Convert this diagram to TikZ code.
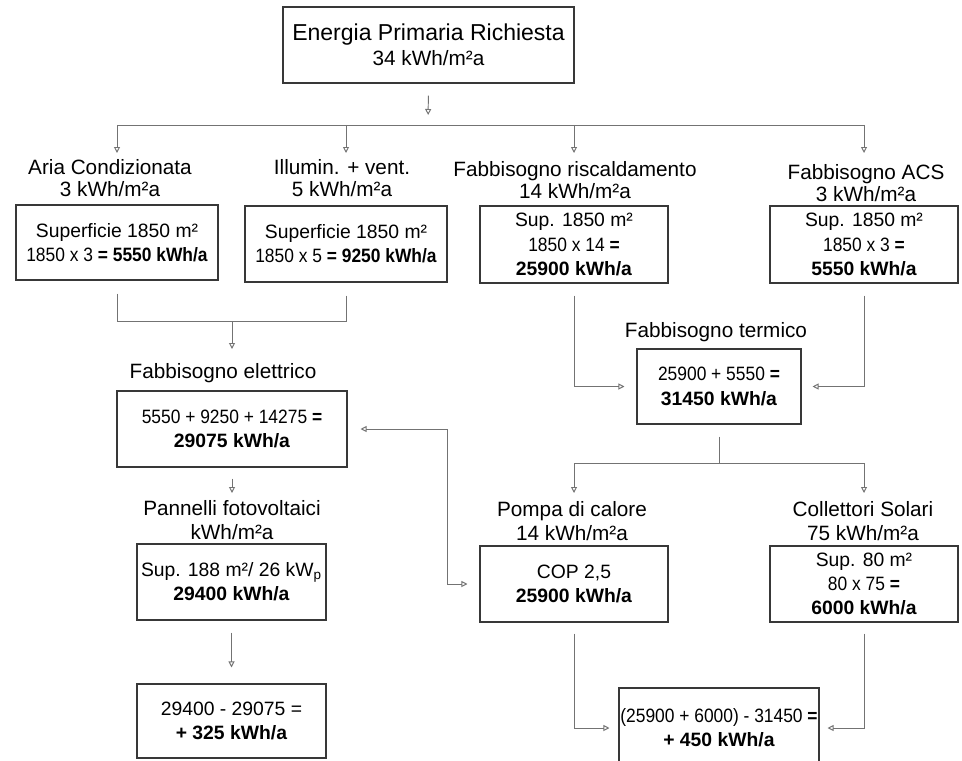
\documentclass[tikz,border=0pt]{standalone}
\usepackage{fontspec}
\setmainfont{Liberation Sans}
\usepackage{graphicx}
\usetikzlibrary{arrows.meta}
\newcommand\cond[1]{\scalebox{0.9}[1]{#1}}
\tikzset{
  box/.style={draw=black!78, line width=0.6pt, align=center, inner sep=0pt, font=\fontsize{11}{13.8}\selectfont},
  boxsize/.style 2 args={minimum width=#1*0.02cm, minimum height=#2*0.02cm},
  lbl/.style={align=center, inner sep=0pt, font=\fontsize{11.8}{12.5}\selectfont},
  lbltall/.style={lbl, font=\fontsize{11.8}{14}\selectfont},
  conn/.style={draw=black!55, line width=0.55pt},
  tip/.tip={Triangle[open, length=0.12cm, width=0.12cm]},
  arr/.style={conn, -tip},
  arrs/.style={conn, tip-tip},
}
\begin{document}
\begin{tikzpicture}[x=0.02cm, y=-0.02cm]
        \useasboundingbox (0,0) rectangle (962,760);
        \clip (0,0) rectangle (962,760);
        \node[box, boxsize={291}{76}, font=\fontsize{11.8}{14.2}\selectfont] (top) at (428.5,45) {{\fontsize{13.1}{14.2}\selectfont Energia Primaria Richiesta}\\34 kWh/m²a};
        \node[lbl] (lA) at (110,178) {Aria Condizionata\\3 kWh/m²a};
        \node[lbl] (lB) at (342,178) {Illumin. + vent.\\5 kWh/m²a};
        \node[lbl] (lC) at (575,180) {Fabbisogno riscaldamento\\14 kWh/m²a};
        \node[lbl] (lD) at (866,183) {Fabbisogno ACS\\3 kWh/m²a};
        \node[box, boxsize={202}{75}] (bA) at (117,242.5) {Superficie 1850 m²\\\cond{1850 x 3 \textbf{= 5550 kWh/a}}};
        \node[box, boxsize={202}{76}] (bB) at (346,244) {Superficie 1850 m²\\\cond{1850 x 5 \textbf{= 9250 kWh/a}}};
        \node[box, boxsize={188}{77}] (bC) at (574,244.5) {Sup. 1850 m²\\\cond{1850 x 14 \textbf{=}}\\\textbf{25900 kWh/a}};
        \node[box, boxsize={188}{77}] (bD) at (864,244.5) {Sup. 1850 m²\\\cond{1850 x 3 \textbf{=}}\\\textbf{5550 kWh/a}};
        \node[lbl] (lE) at (223,373) {Fabbisogno elettrico};
        \node[box, boxsize={230}{76}] (bE) at (232,429) {\cond{5550 + 9250 + 14275 \textbf{=}}\\\textbf{29075 kWh/a}};
        \node[lbltall] (lF) at (232,520) {Pannelli fotovoltaici\\kWh/m²a};
        \node[box, boxsize={189}{76}] (bF) at (231.5,582) {Sup. 188 m²/ 26 kW\textsubscript{p}\\\textbf{29400 kWh/a}};
        \node[box, boxsize={189}{74}] (bG) at (231.5,721) {29400 - 29075 =\\\textbf{+ 325 kWh/a}};
        \node[lbl] (lH) at (716,332) {Fabbisogno termico};
        \node[box, boxsize={164}{75}] (bH) at (719,386.5) {\cond{25900 + 5550 \textbf{=}}\\\textbf{31450 kWh/a}};
        \node[lbltall] (lI) at (572,521) {Pompa di calore\\14 kWh/m²a};
        \node[lbltall] (lJ) at (863,521) {Collettori Solari\\75 kWh/m²a};
        \node[box, boxsize={188}{76}] (bI) at (574,584) {COP 2,5\\\textbf{25900 kWh/a}};
        \node[box, boxsize={188}{76}] (bJ) at (864,584) {Sup. 80 m²\\\cond{80 x 75 \textbf{=}}\\\textbf{6000 kWh/a}};
        \node[box, boxsize={200}{80}] (bK) at (719,728) {\cond{(25900 + 6000) - 31450 \textbf{=}}\\\textbf{+ 450 kWh/a}};

        \coordinate (bus) at (428,125);
        \coordinate (drop) at (0,153);
        \coordinate (jAB) at (232,321);
        \coordinate (jIJ) at (719,463);
        \coordinate (drop2) at (0,493);
        \coordinate (bend) at (447,0);

        \draw[arr, shorten <=0.24cm, shorten >=0.2cm] (top.south) -- (bus);
        \draw[conn] (bA |- bus) -- (bD |- bus);
        \foreach \b in {bA, bB, bC, bD}
          \draw[arr] (\b |- bus) -- (\b |- drop);
        \draw[conn, shorten <=0.26cm] (bA.south) |- (jAB);
        \draw[conn, shorten <=0.26cm] (bB.south) |- (jAB);
        \draw[arr] (jAB) -- (jAB |- 0,349);
        \draw[arr, shorten <=0.22cm] (bE.south) -- (bE.south |- drop2);
        \draw[arr, shorten <=0.24cm, shorten >=0.32cm] (bF) -- (bG);
        \draw[arr, shorten <=0.24cm, shorten >=0.24cm] (bC.south) |- (bH.west);
        \draw[arr, shorten <=0.24cm, shorten >=0.22cm] (bD.south) |- (bH.east);
        \draw[conn, shorten <=0.24cm] (bH.south) -- (jIJ);
        \draw[arr] (jIJ) -| (bI.center |- drop2);
        \draw[arr] (jIJ) -| (bJ.center |- drop2);
        \draw[arr, shorten <=0.22cm, shorten >=0.18cm] (bI.south) |- (bK.west);
        \draw[arr, shorten <=0.22cm, shorten >=0.16cm] (bJ.south) |- (bK.east);
        \draw[arrs, shorten <=0.26cm, shorten >=0.24cm] (bE.east) -- (bE.east -| bend) |- (bI.west);
      \end{tikzpicture}
\end{document}
